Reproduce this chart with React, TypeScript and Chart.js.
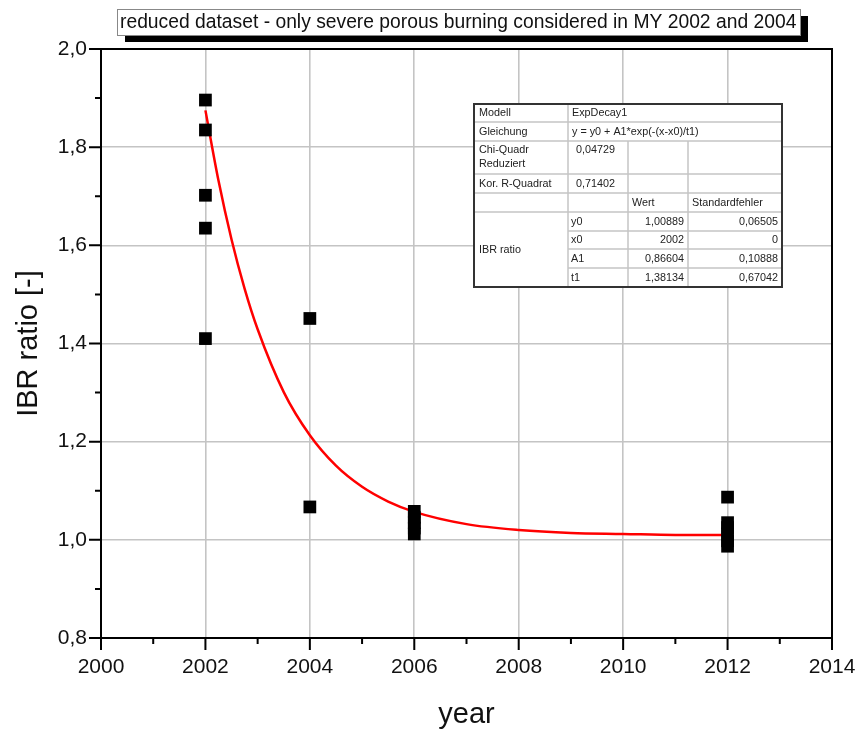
import React, { useEffect, useRef } from 'react';
import { Chart, registerables } from 'chart.js';

Chart.register(...registerables);

// ---------- data ----------
const pointYears = [
  2002, 2002, 2002, 2002, 2002,
  2004, 2004,
  2006, 2006, 2006, 2006, 2006,
  2012, 2012, 2012, 2012, 2012, 2012,
];
const ibrRatios = [
  1.896, 1.835, 1.702, 1.635, 1.41,
  1.451, 1.067,
  1.058, 1.046, 1.035, 1.024, 1.012,
  1.087, 1.035, 1.025, 1.012, 0.998, 0.987,
];

const fitYears = [2002, 2002.25, 2002.5, 2002.75, 2003, 2003.5, 2004, 2004.5, 2005, 2005.5, 2006, 2007, 2008, 2009, 2010, 2011, 2012];
const fitValues = [1.875, 1.732, 1.612, 1.512, 1.429, 1.301, 1.213, 1.151, 1.108, 1.078, 1.057, 1.032, 1.02, 1.014, 1.012, 1.01, 1.01];

const xMin = 2000;
const xMax = 2014;
const xStep = 2;
const yMin = 0.8;
const yMax = 2.0;
const yStep = 0.2;

const chartTitle = 'reduced dataset - only severe porous burning considered in MY 2002 and 2004';
const xTitle = 'year';
const yTitle = 'IBR ratio [-]';

const modelName = 'ExpDecay1';
const equation = 'y = y0 + A1*exp(-(x-x0)/t1)';
const chiSqr = '0,04729';
const adjR2 = '0,71402';
const paramNames = ['y0', 'x0', 'A1', 't1'];
const paramValues = ['1,00889', '2002', '0,86604', '1,38134'];
const paramErrors = ['0,06505', '0', '0,10888', '0,67042'];

const FONT = '"Liberation Sans", Arial, Helvetica, sans-serif';

function drawTable(ctx: CanvasRenderingContext2D) {
  const L = 474, c1 = 568, c2 = 628, c3 = 688, R = 782;
  const r = [104, 122, 141, 174, 193, 212, 231, 249, 268, 287];
  ctx.save();
  ctx.fillStyle = '#ffffff';
  ctx.fillRect(L, r[0], R - L, r[9] - r[0]);
  ctx.strokeStyle = '#c4c4c4';
  ctx.lineWidth = 1.5;
  const line = (x1: number, y1: number, x2: number, y2: number) => {
    ctx.beginPath();
    ctx.moveTo(x1, y1);
    ctx.lineTo(x2, y2);
    ctx.stroke();
  };
  [r[1], r[2], r[3], r[4], r[5]].forEach((y) => line(L, y, R, y));
  [r[6], r[7], r[8]].forEach((y) => line(c1, y, R, y));
  line(c1, r[0], c1, r[9]);
  line(c2, r[2], c2, r[9]);
  line(c3, r[2], c3, r[9]);
  ctx.strokeStyle = '#333333';
  ctx.lineWidth = 2;
  ctx.strokeRect(L, r[0], R - L, r[9] - r[0]);

  ctx.fillStyle = '#222222';
  ctx.font = `10.8px ${FONT}`;
  ctx.textBaseline = 'middle';
  ctx.textAlign = 'left';
  const mid = (a: number, b: number) => (a + b) / 2 + 0.5;
  ctx.fillText('Modell', L + 5, mid(r[0], r[1]));
  ctx.fillText(modelName, c1 + 4, mid(r[0], r[1]));
  ctx.fillText('Gleichung', L + 5, mid(r[1], r[2]));
  ctx.fillText(equation, c1 + 4, mid(r[1], r[2]));
  ctx.fillText('Chi-Quadr', L + 5, r[2] + 9);
  ctx.fillText('Reduziert', L + 5, r[2] + 23);
  ctx.fillText(chiSqr, c1 + 8, r[2] + 9);
  ctx.fillText('Kor. R-Quadrat', L + 5, mid(r[3], r[4]));
  ctx.fillText(adjR2, c1 + 8, mid(r[3], r[4]));
  ctx.fillText('Wert', c2 + 4, mid(r[4], r[5]));
  ctx.fillText('Standardfehler', c3 + 4, mid(r[4], r[5]));
  ctx.fillText('IBR ratio', L + 5, mid(r[5], r[9]));
  for (let i = 0; i < paramNames.length; i++) {
    const y = mid(r[5 + i], r[6 + i]);
    ctx.textAlign = 'left';
    ctx.fillText(paramNames[i], c1 + 3, y);
    ctx.textAlign = 'right';
    ctx.fillText(paramValues[i], c3 - 4, y);
    ctx.fillText(paramErrors[i], R - 4, y);
  }
  ctx.restore();
}

const decorPlugin = {
  id: 'decor',
  afterDatasetsDraw(chart: any) {
    drawTable(chart.ctx);
  },
  afterDraw(chart: any) {
    const ctx: CanvasRenderingContext2D = chart.ctx;
    const { left, right, top, bottom } = chart.chartArea;
    const xs = chart.scales.x;
    const ys = chart.scales.y;
    ctx.save();
    // frame
    ctx.strokeStyle = '#000000';
    ctx.lineWidth = 2;
    ctx.strokeRect(left, top, right - left, bottom - top);
    // ticks (major + minor, outward)
    ctx.beginPath();
    for (let v = xMin; v <= xMax + 1e-9; v += 1) {
      const px = xs.getPixelForValue(v);
      const len = Math.round(v - xMin) % 2 === 0 ? 12 : 6;
      ctx.moveTo(px, bottom);
      ctx.lineTo(px, bottom + len);
    }
    const nMinorY = Math.round((yMax - yMin) / (yStep / 2));
    for (let i = 0; i <= nMinorY; i++) {
      const v = yMin + (i * yStep) / 2;
      const py = ys.getPixelForValue(v);
      const len = i % 2 === 0 ? 12 : 6;
      ctx.moveTo(left, py);
      ctx.lineTo(left - len, py);
    }
    ctx.stroke();

    // title box with shadow
    const bx = 117, by = 9, bw = 683, bh = 26;
    ctx.fillStyle = '#000000';
    ctx.fillRect(bx + 8, by + 7, bw, bh);
    ctx.fillStyle = '#ffffff';
    ctx.fillRect(bx, by, bw, bh);
    ctx.strokeStyle = '#888888';
    ctx.lineWidth = 1;
    ctx.strokeRect(bx + 0.5, by + 0.5, bw, bh);
    ctx.fillStyle = '#111111';
    ctx.font = `19.3px ${FONT}`;
    ctx.textBaseline = 'middle';
    ctx.textAlign = 'left';
    ctx.fillText(chartTitle, bx + 3, by + bh / 2 + 1);
    ctx.restore();
  },
};

export default function App() {
  const canvasRef = useRef<HTMLCanvasElement | null>(null);

  useEffect(() => {
    const canvas = canvasRef.current;
    if (!canvas) return;
    const chart = new Chart(canvas, {
      type: 'scatter',
      data: {
        datasets: [
          {
            type: 'line',
            label: 'ExpDecay1 fit',
            data: fitYears.map((x, i) => ({ x, y: fitValues[i] })),
            borderColor: '#ff0000',
            borderWidth: 2.5,
            pointRadius: 0,
            cubicInterpolationMode: 'monotone',
            fill: false,
            order: 2,
          } as any,
          {
            type: 'scatter',
            label: 'IBR ratio',
            data: pointYears.map((x, i) => ({ x, y: ibrRatios[i] })),
            pointStyle: 'rect',
            pointRadius: 9,
            pointHoverRadius: 9,
            backgroundColor: '#000000',
            borderColor: '#000000',
            borderWidth: 0,
            order: 1,
          },
        ],
      },
      options: {
        responsive: false,
        animation: false,
        events: [],
        layout: { padding: { left: 0, top: 49, right: 29, bottom: 0 } },
        plugins: {
          legend: { display: false },
          tooltip: { enabled: false },
          title: { display: false },
        },
        scales: {
          x: {
            type: 'linear',
            min: xMin,
            max: xMax,
            afterFit(scale: any) {
              scale.height = 94;
              scale.paddingLeft = 0;
              scale.paddingRight = 0;
            },
            ticks: {
              stepSize: xStep,
              color: '#111111',
              font: { family: FONT, size: 21 },
              padding: 17,
              maxRotation: 0,
              callback: (v: any) => String(v),
            },
            grid: { color: '#c4c4c4', lineWidth: 1.6, drawTicks: false },
            border: { display: false },
            title: {
              display: true,
              text: xTitle,
              color: '#111111',
              font: { family: FONT, size: 29 },
              padding: { top: 0, bottom: 0 },
            },
          },
          y: {
            type: 'linear',
            min: yMin,
            max: yMax,
            afterFit(scale: any) {
              scale.width = 101;
              scale.paddingTop = 0;
              scale.paddingBottom = 0;
            },
            ticks: {
              stepSize: yStep,
              color: '#111111',
              font: { family: FONT, size: 21 },
              padding: 14,
              callback: (v: any) => Number(v).toFixed(1).replace('.', ','),
            },
            grid: { color: '#c4c4c4', lineWidth: 1.6, drawTicks: false },
            border: { display: false },
            title: {
              display: true,
              text: yTitle,
              color: '#111111',
              font: { family: FONT, size: 29 },
              padding: { top: 12, bottom: 0 },
            },
          },
        },
      },
      plugins: [decorPlugin],
    });
    return () => chart.destroy();
  }, []);

  return (
    <div style={{ position: 'absolute', left: 0, top: 0, width: 861, height: 732, background: '#ffffff' }}>
      <canvas ref={canvasRef} width={861} height={732} style={{ display: 'block' }} />
    </div>
  );
}
